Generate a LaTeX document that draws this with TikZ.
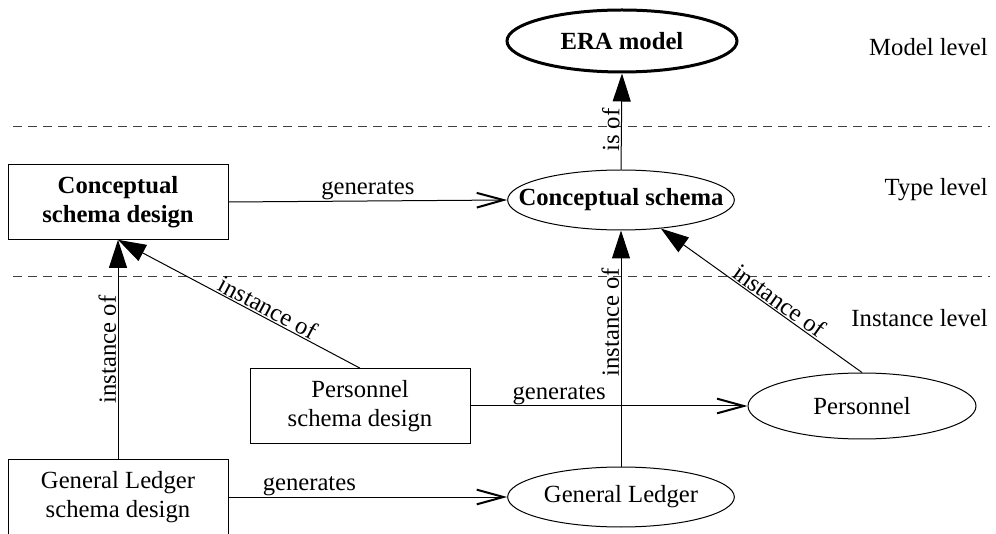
\documentclass[tikz,border=0pt]{standalone}
\usepackage{fontspec}
\setmainfont{Liberation Serif}
\usetikzlibrary{arrows.meta,shapes.geometric}
\begin{document}
\begin{tikzpicture}[x=0.75pt,y=-0.75pt,
  every node/.style={font=\fontsize{18.5}{22}\selectfont},
  box/.style={draw,line width=0.75pt,rectangle,minimum width=165pt,minimum height=56pt,inner sep=0pt,align=center},
  oval/.style={draw,line width=0.75pt,ellipse,inner sep=0pt,minimum width=170pt,minimum height=45pt},
  gen/.style={draw,line width=0.75pt,-{Straight Barb[length=20pt,width=11pt,line width=1.5pt]}},
  inst/.style={draw,line width=0.75pt,-{Triangle[length=21pt,width=13.5pt]}},
  lvl/.style={anchor=east,inner sep=0pt},
  lab/.style={inner sep=1pt},
  divider/.style={dash pattern=on 6.75pt off 4.5pt, line width=0.75pt, black!75}
]
\useasboundingbox (0,0) rectangle (996,534);

% level dividers
\draw[divider] (13,127) -- (990,127);
\draw[divider] (13,277) -- (990,277);

% level labels
\node[lvl] (ml) at (988,47) {Model level};
\node[lvl] (tl) at (988,190) {Type level};
\node[lvl] (il) at (988,318) {Instance level};

% nodes
\node[oval, line width=2.25pt, minimum width=172.5pt, minimum height=46.5pt] (era) at (622,41) {\makebox[0pt]{\textbf{ERA model}}};
\node[oval] (cs) at (621,200) {\makebox[0pt]{\textbf{Conceptual schema}}};
\node[box] (csd) at (118,202) {\textbf{Conceptual}\\\textbf{schema design}};
\node[box] (pbox) at (360,406) {Personnel\\schema design};
\node[box] (glbox) at (118,497) {General Ledger\\schema design};
\node[oval, minimum width=171pt, minimum height=49.5pt] (pell) at (862,406) {\makebox[0pt]{Personnel}};
\node[oval] (glell) at (621,497) {\makebox[0pt]{General Ledger}};

% connectors
\draw[inst] (cs.north) -- node[lab, sloped, above, pos=0.41] {is of} (era.south);
\draw[gen] (csd.east) -- node[lab, above, inner sep=0.5pt] {generates} (cs.west);
\draw[gen] (pbox.east) -- node[lab, above, pos=0.32, inner sep=0.5pt] {generates} (pell.west);
\draw[gen] (glbox.east) -- node[lab, above, pos=0.29, inner sep=0.5pt] {generates} (glell.west);
\draw[inst] (glbox.north) -- node[lab, sloped, above] {instance of} (csd.south);
\draw[inst] (pbox.north) -- node[lab, sloped, above, pos=0.4] {instance of} (csd.south);
\draw[inst] (glell.north) -- node[lab, sloped, above, pos=0.61] {instance of} (cs.south);
\draw[inst] (pell.north) -- node[lab, sloped, above, pos=0.44] {instance of} (cs);
\end{tikzpicture}
\end{document}
